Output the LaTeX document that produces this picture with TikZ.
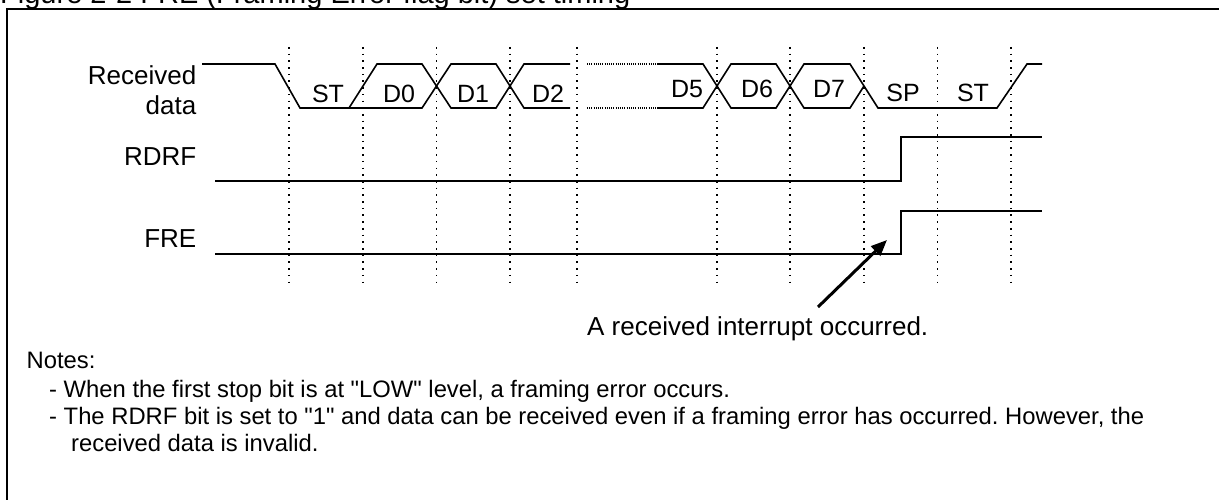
\documentclass[tikz,border=0pt]{standalone}
\usepackage{fontspec}
\setmainfont{Liberation Sans}[Ligatures=TeXOff]
\usetikzlibrary{arrows.meta}
\begin{document}
\frenchspacing
\begin{tikzpicture}[x=1pt,y=-1pt,
  wave/.style={line width=1.6pt,line join=miter},
  grid/.style={line width=1.6pt,dash pattern=on 1.6pt off 5.1pt},
  brk/.style={line width=1.4pt,dash pattern=on 1pt off 1.2pt},
  lbl/.style={inner sep=0pt,font=\fontsize{25}{30}\selectfont},
  sig/.style={inner sep=0pt,anchor=base east,font=\fontsize{26}{31}\selectfont},
  note/.style={inner sep=0pt,anchor=base west,font=\fontsize{23.8}{29}\selectfont},
  pointer/.style={line width=3pt,-{Triangle[length=16pt,width=13pt]}}]
\useasboundingbox (0,0) rectangle (1219,500);
% frame and title
\draw[line width=2pt] (7,520) -- (7,9) -- (1240,9);
\node[inner sep=0pt,anchor=base west,font=\fontsize{29}{34}\selectfont] (title) at (0,4) {Figure 2-2 FRE (Framing Error flag bit) set timing};
% signal names
\node[sig] (rx1) at (196.5,84.3) {Received};
\node[sig] (rx2) at (196.5,115) {data};
\node[sig] (rdrf) at (196.5,166) {RDRF};
\node[sig] (fre) at (196.5,247.7) {FRE};
% dotted time grid
\foreach \x in {289,363,436.5,510,577,717,790,864,937.5,1011}
  \draw[grid] (\x,47) -- (\x,284);
% received data waveform
\draw[wave] (202,64) -- (275,64) -- (300,108) -- (422,108) -- (451,64) -- (496,64) -- (524,108) -- (570,108);
\draw[wave] (349,108) -- (377,64) -- (422,64) -- (451,108) -- (496,108) -- (524,64) -- (570,64);
\draw[brk] (587,64) -- (657,64);
\draw[brk] (587,108) -- (657,108);
\draw[wave] (657,64) -- (703,64) -- (731,108) -- (776,108) -- (804,64) -- (850,64) -- (878,108) -- (997,108) -- (1027,64) -- (1042,64);
\draw[wave] (657,108) -- (703,108) -- (731,64) -- (776,64) -- (804,108) -- (850,108) -- (864,86);
% bit labels
\node[lbl,anchor=base] (st1) at (328,102.5) {ST};
\node[lbl,anchor=base] (d0) at (399,102.5) {D0};
\node[lbl,anchor=base] (d1) at (473,102.5) {D1};
\node[lbl,anchor=base] (d2) at (548,102.5) {D2};
\node[lbl,anchor=base] (d5) at (687,98) {D5};
\node[lbl,anchor=base] (d6) at (757,98) {D6};
\node[lbl,anchor=base] (d7) at (829,98) {D7};
\node[lbl,anchor=base] (sp) at (903,101.5) {SP};
\node[lbl,anchor=base] (st2) at (973,101.5) {ST};
% RDRF and FRE
\draw[wave] (215,181) -- (901,181) -- (901,137) -- (1042,137);
\draw[wave] (215,254) -- (901,254) -- (901,211) -- (1042,211);
% annotation
\node[inner sep=0pt,anchor=base west,font=\fontsize{26}{31}\selectfont] (irq) at (587,335) {A received interrupt occurred.};
\coordinate (tail) at (818,307);
\coordinate (tip) at (887,240);
\draw[pointer] (tail) -- (tip);
% notes
\node[note] (notes) at (26.5,368) {Notes:};
\node[note] (n1) at (49,397.5) {- When the first stop bit is at "LOW" level, a framing error occurs.};
\node[note] (n2) at (49,424.5) {- The RDRF bit is set to "1" and data can be received even if a framing error has occurred. However, the};
\node[note] (n3) at (71,451.5) {received data is invalid.};
\end{tikzpicture}
\end{document}
